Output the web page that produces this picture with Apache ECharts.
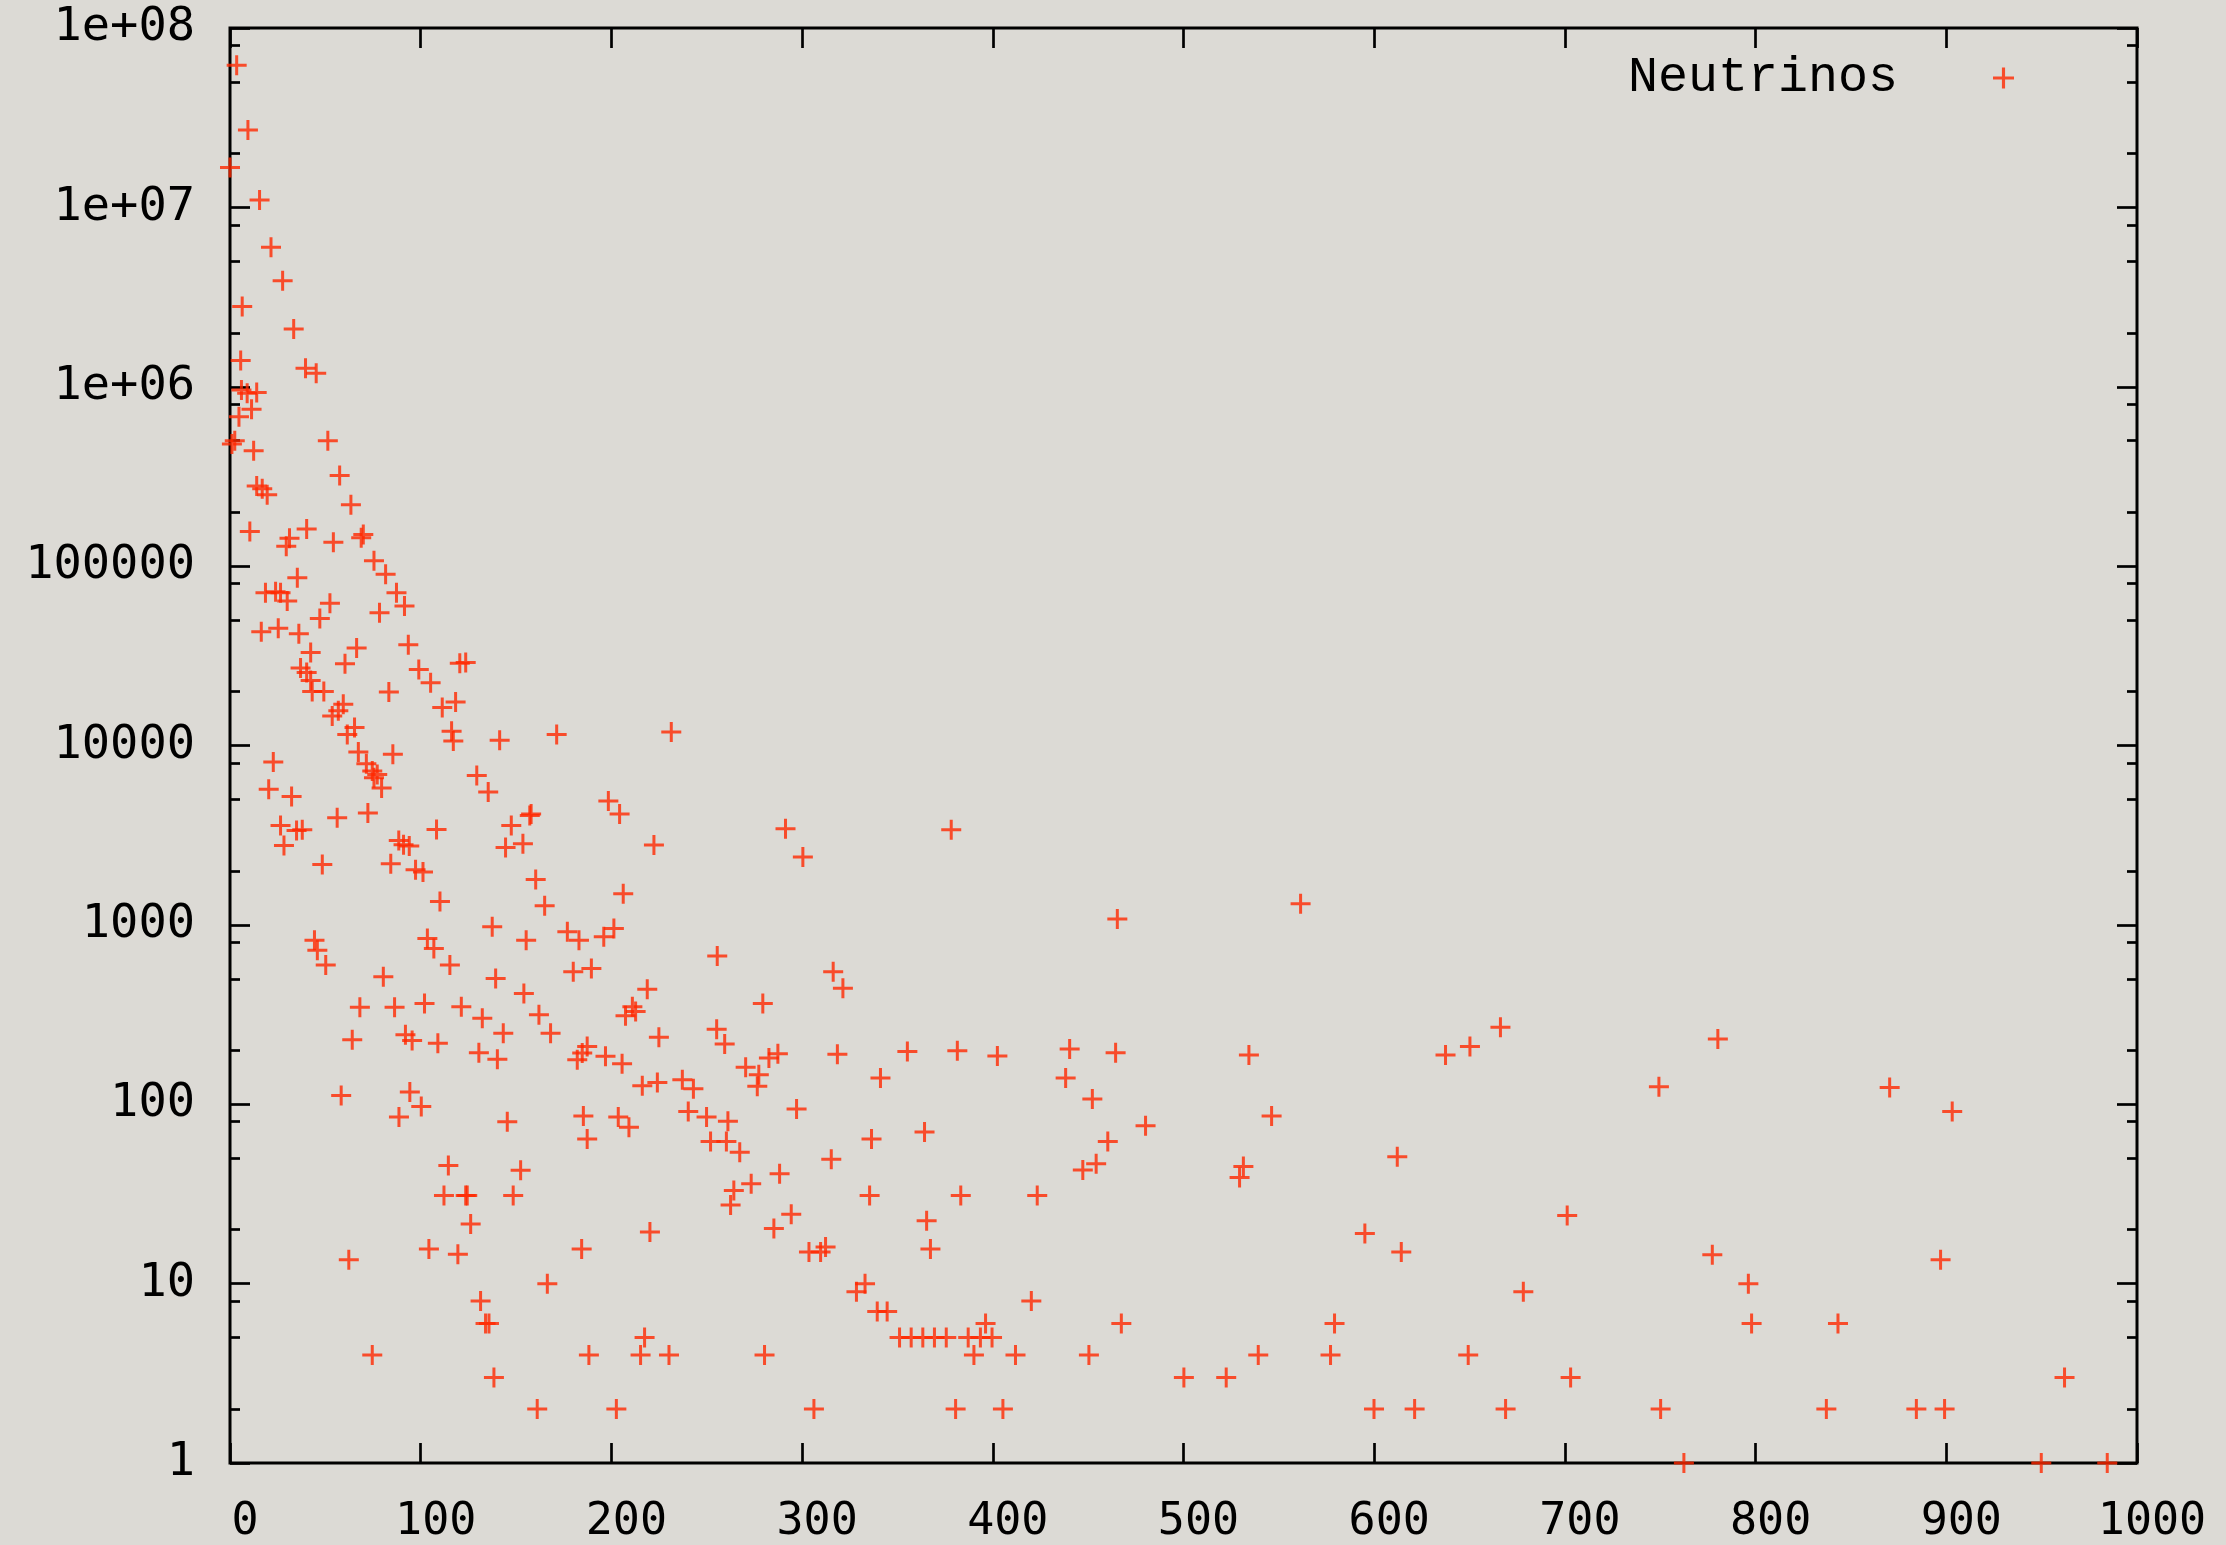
<!DOCTYPE html>
<html>
<head>
<meta charset="utf-8">
<script src="https://cdn.jsdelivr.net/npm/echarts@6/dist/echarts.min.js"></script>
<style>
html, body { margin: 0; padding: 0; background: #dcdad5; }
#chart { width: 2226px; height: 1545px; }
</style>
</head>
<body>
<div id="chart"></div>
<script>
const seriesName = 'Neutrinos';

const xTickValues = [0, 100, 200, 300, 400, 500, 600, 700, 800, 900, 1000];
const xTickLabels = ['0', '100', '200', '300', '400', '500', '600', '700', '800', '900', '1000'];
const yTickValues = [1, 10, 100, 1000, 10000, 100000, 1e6, 1e7, 1e8];
const yTickLabels = ['1', '10', '100', '1000', '10000', '100000', '1e+06', '1e+07', '1e+08'];
const yMinorMultipliers = [2, 5, 8];

// [x, count] pairs
const highCounts = [
  [3.5, 6.2e7], [9.4, 2.7e7], [0, 1.67e7], [15.5, 1.1e7], [21.5, 6.0e6], [27.6, 3.9e6],
  [6.4, 2.8e6], [33.4, 2.1e6], [5.6, 1.4e6], [39.6, 1.27e6], [45.2, 1.19e6], [6, 9.6e5],
  [9, 9.2e5], [14, 9.3e5], [11.3, 7.5e5], [4.7, 6.8e5], [1, 4.8e5], [2.5, 5.0e5],
  [12.4, 4.4e5], [51.3, 5.0e5], [57.5, 3.2e5], [14, 2.8e5], [16.9, 2.7e5], [19.5, 2.5e5],
  [63.4, 2.2e5], [10.4, 1.56e5], [40.2, 1.61e5], [31.2, 1.43e5], [29.5, 1.29e5],
  [54.2, 1.36e5], [69.9, 1.5e5], [68.8, 1.44e5], [75.5, 1.07e5]
];

const midCounts = [
  [81.6, 9.0e4], [35.3, 8.6e4], [18.6, 7.1e4], [23.9, 7.2e4], [26.5, 7.1e4], [30, 6.4e4],
  [87.3, 7.1e4], [52.4, 6.2e4], [91.5, 6.0e4], [47.1, 5.1e4], [78.4, 5.5e4], [16.4, 4.3e4],
  [25.3, 4.5e4], [36.1, 4.2e4], [93.5, 3.65e4], [42.3, 3.3e4], [66.4, 3.5e4], [37, 2.7e4],
  [40.2, 2.55e4], [42.3, 2.3e4], [60.3, 2.86e4], [99, 2.65e4], [120.5, 2.87e4], [123.6, 2.9e4],
  [105.2, 2.24e4], [43.1, 2.0e4], [49.2, 2.0e4], [83.3, 1.99e4], [118.3, 1.75e4], [111.3, 1.63e4],
  [59.4, 1.7e4], [56.8, 1.56e4], [53.6, 1.46e4], [65.3, 1.26e4], [61.5, 1.15e4], [116.2, 1.2e4],
  [117.1, 1.06e4], [141.4, 1.07e4], [171.3, 1.15e4], [231.4, 1.19e4], [67.3, 9200], [85.4, 8950],
  [22.7, 8100], [71.5, 7900], [74.6, 7200], [77.2, 6900], [75.5, 6600], [79.5, 5800],
  [129.4, 6800], [135.4, 5500], [20.3, 5700], [32.3, 5200], [198.4, 4900], [204.3, 4150],
  [157.9, 4150], [157.2, 4070], [56.2, 3950], [72.3, 4200], [26.5, 3580], [34.9, 3360],
  [37.9, 3390], [28.3, 2770], [108.3, 3400], [147.5, 3580], [144.5, 2700], [153.6, 2830],
  [88.5, 2950], [91, 2800], [94, 2750], [222.3, 2790], [48.4, 2170], [84.3, 2190],
  [97.3, 2030], [101.2, 1970], [160.3, 1790], [165, 1280], [206.2, 1490], [110.1, 1350],
  [291.3, 3430], [300.4, 2390], [378.2, 3390], [465.3, 1080], [561.4, 1310]
];

const lowCounts = [
  [137.5, 975], [155.3, 822], [176.9, 915], [183, 822], [196, 858], [201.3, 955],
  [44.3, 822], [45.8, 723], [50.2, 597], [103.5, 840], [106.9, 738], [115.3, 597],
  [80.4, 514], [139.3, 503], [180, 548], [189.5, 572], [154.1, 415], [218.8, 437], [255.5, 670],
  [68.1, 347], [86.3, 347], [102, 365], [121.3, 350], [132.3, 302], [162, 315], [168.1, 249],
  [143.3, 249], [211, 350], [212.7, 329], [207.4, 311], [224.9, 236], [64.1, 229], [92, 244],
  [95.5, 227], [109, 219], [130.5, 194], [140.2, 178], [187.3, 210], [184.7, 193], [182.1, 177],
  [196.9, 185], [205.6, 168], [216.2, 127], [224.1, 132], [237.2, 137], [243, 122], [58.3, 112],
  [94.3, 117], [100.3, 97], [88.6, 85], [145.4, 80], [185.3, 86], [203.6, 85], [209.2, 74.5],
  [187.3, 64], [240.3, 91], [114.5, 45.6], [152.4, 42.8], [112.2, 31], [123.6, 31], [124.4, 31],
  [148.5, 31], [126.2, 21.5], [220.2, 19.4], [62.3, 13.6], [104.3, 15.6], [119.5, 14.6], [184.4, 15.6]
];

const farCounts = [
  [316.3, 548], [321.4, 443], [279.4, 365], [255.2, 262], [259.4, 217], [287.3, 191], [282.6, 181],
  [318.5, 190], [355.2, 197], [381.4, 199], [402.4, 186], [440.3, 203], [464.4, 194], [270.4, 161],
  [277.3, 146], [276.5, 126], [341.1, 140], [438.2, 140], [452.2, 107], [297.1, 94], [249.9, 85],
  [261.1, 80.5], [252, 62], [260.3, 62], [267.3, 54], [336.4, 64], [364.2, 70], [480.1, 76],
  [460.3, 62], [447.2, 43], [454.2, 46.6], [315.3, 49.3], [288.2, 41], [273.3, 36], [264.2, 33],
  [262.5, 27.4], [335.4, 31], [383.2, 31], [423.3, 31], [365.3, 22.4], [294.3, 24.4], [285.2, 20.3],
  [367.3, 15.6], [303.6, 15], [309.7, 15], [312.3, 16],
  [534.3, 188], [637.4, 188], [650.2, 210], [666.2, 269], [749.3, 125], [546.2, 86], [612.1, 51],
  [531.4, 45], [529.4, 39], [701.2, 24], [595.1, 19], [614.2, 15],
  [780.2, 231], [870.3, 124], [903.1, 91], [777.3, 14.5], [897, 13.6]
];

const tailCounts = [
  [166.4, 10], [131.4, 8], [134, 6], [135.8, 6], [217.4, 5], [74.6, 4], [188.2, 4], [215.3, 4],
  [230.2, 4], [138.4, 3], [161.1, 2], [202.6, 2],
  [333, 10], [328.5, 9], [339.4, 7], [344.6, 7], [351.1, 5], [357.2, 5], [363.3, 5], [369.4, 5],
  [375.6, 5], [387.1, 5], [393.5, 5], [399.6, 5], [396.2, 6], [390.1, 4], [280.3, 4], [411.9, 4],
  [450.4, 4], [420.2, 8], [467.4, 6], [500.2, 3], [306.2, 2], [380.5, 2], [405.3, 2],
  [678.2, 9], [579.2, 6], [539.2, 4], [577.1, 4], [649.3, 4], [522.4, 3], [703, 3],
  [599.9, 2], [621.2, 2], [668.9, 2], [750.2, 2], [762.4, 1],
  [796.2, 10], [797.9, 6], [843.2, 6], [962, 3], [837.1, 2], [884.3, 2], [899.1, 2],
  [949.8, 1], [984.4, 1]
];

const allPoints = [].concat(highCounts, midCounts, lowCounts, farCounts, tailCounts);

const yMinorTicks = [];
for (let d = 0; d < 8; d++) {
  for (const m of yMinorMultipliers) yMinorTicks.push(m * Math.pow(10, d));
}

const plusPath = 'path://M8.5,0h3v8.5h8.5v3h-8.5v8.5h-3v-8.5h-8.5v-3h8.5z';
const tickLine = { color: '#000', width: 2.7 };
const labelFont = 'DejaVu Sans Mono';

function yAxisDef(position, isMajor) {
  return {
    type: 'log', logBase: 10, min: 1, max: 1e8, position: position,
    axisLine: { show: false, onZero: false },
    axisTick: { show: true, inside: true, length: isMajor ? 20 : 10, lineStyle: tickLine,
                customValues: isMajor ? yTickValues : yMinorTicks },
    axisLabel: (isMajor && position === 'left') ? {
      show: true, customValues: yTickValues,
      formatter: v => yTickLabels[Math.round(Math.log10(v))],
      fontFamily: labelFont, fontSize: 47, color: '#000', margin: 35,
      padding: [9, 0, 0, 0]
    } : { show: false },
    splitLine: { show: false }
  };
}

function xAxisDef(position) {
  return {
    type: 'value', min: 0, max: 1000, interval: 100, position: position,
    axisLine: { show: false, onZero: false },
    axisTick: { show: true, inside: true, length: 20, lineStyle: tickLine, customValues: xTickValues },
    axisLabel: position === 'bottom' ? {
      show: true, customValues: xTickValues,
      formatter: v => xTickLabels[xTickValues.indexOf(v)],
      fontFamily: labelFont, fontSize: 45, color: '#000', margin: 36, lineHeight: 46,
      padding: [0, 0, 0, 30]
    } : { show: false },
    splitLine: { show: false }
  };
}

const chart = echarts.init(document.getElementById('chart'), null, { renderer: 'canvas' });
chart.setOption({
  backgroundColor: '#dcdad5',
  animation: false,
  grid: {
    left: 230, right: 89, top: 28, bottom: 77,
    show: true, borderColor: '#000', borderWidth: 3, backgroundColor: 'transparent'
  },
  legend: {
    right: 212, top: 53, padding: 0, align: 'right', orient: 'vertical',
    itemWidth: 21, itemHeight: 21, selectedMode: false,
    data: [{ name: seriesName, icon: plusPath }],
    textStyle: { fontFamily: 'Liberation Mono', fontSize: 50, color: '#000', lineHeight: 50,
                 padding: [0, 90, 0, 0] }
  },
  xAxis: [xAxisDef('bottom'), xAxisDef('top')],
  yAxis: [yAxisDef('left', true), yAxisDef('left', false), yAxisDef('right', true), yAxisDef('right', false)],
  series: [{
    type: 'scatter', name: seriesName, xAxisIndex: 0, yAxisIndex: 0,
    data: allPoints, symbol: plusPath, symbolSize: 20,
    itemStyle: { color: '#ff2800' },
    emphasis: { disabled: true }, silent: true, z: 3
  }]
});
</script>
</body>
</html>
